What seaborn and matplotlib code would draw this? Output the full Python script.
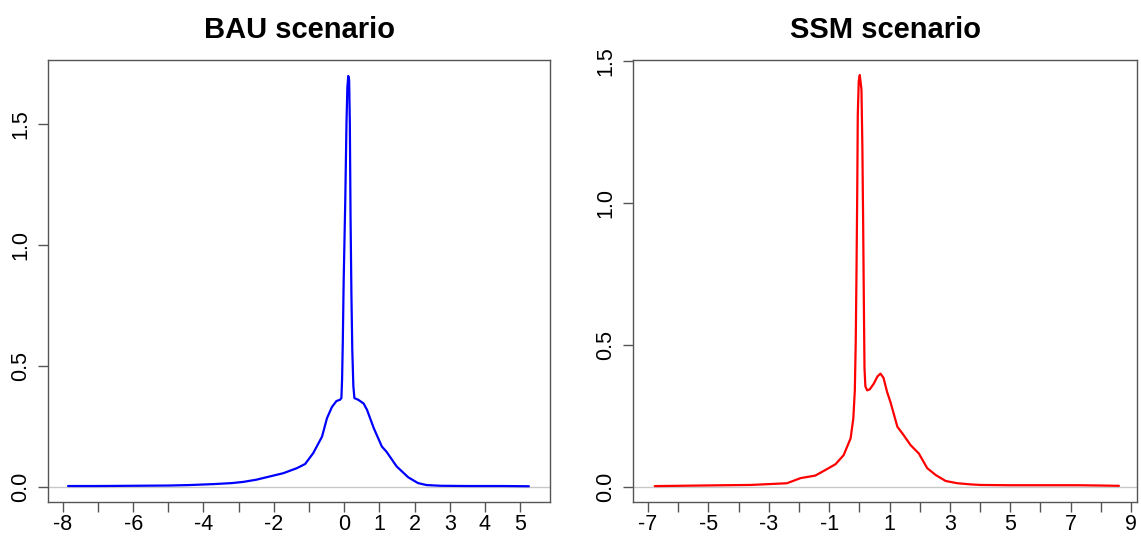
import matplotlib
matplotlib.use("Agg")
import matplotlib.pyplot as plt
import seaborn as sns

# Density estimates of the two scenarios
bau_x = [-7.85, -7.0, -6.0, -5.0, -4.4, -3.7, -3.2, -2.87, -2.5, -2.10, -1.73, -1.34,
         -1.11, -0.88, -0.63, -0.49, -0.35, -0.22, -0.12, -0.08, -0.06, -0.04, -0.015,
         0.03, 0.065, 0.09, 0.115, 0.14, 0.16, 0.18, 0.205, 0.23, 0.26, 0.29, 0.40,
         0.55, 0.65, 0.84, 1.07, 1.20, 1.49, 1.82, 2.10, 2.34, 2.74, 3.5, 4.5, 5.25]
bau_y = [0.004, 0.004, 0.005, 0.006, 0.008, 0.012, 0.016, 0.021, 0.03, 0.044, 0.057, 0.078,
         0.095, 0.14, 0.208, 0.284, 0.33, 0.355, 0.36, 0.367, 0.445, 0.599, 0.852,
         1.181, 1.504, 1.65, 1.697, 1.68, 1.504, 1.118, 0.795, 0.564, 0.417, 0.367, 0.36,
         0.345, 0.318, 0.243, 0.167, 0.146, 0.085, 0.04, 0.016, 0.008, 0.005, 0.004, 0.004, 0.003]

ssm_x = [-6.78, -6.0, -5.27, -4.5, -3.61, -3.0, -2.40, -1.95, -1.46, -1.12, -0.79, -0.52,
         -0.29, -0.20, -0.15, -0.12, -0.095, -0.07, -0.052, -0.02, 0.014, 0.07, 0.10,
         0.127, 0.147, 0.17, 0.20, 0.26, 0.35, 0.48, 0.60, 0.70, 0.80, 0.92, 1.03, 1.26,
         1.47, 1.70, 1.97, 2.25, 2.53, 2.86, 3.25, 3.69, 4.02, 5.0, 6.0, 7.3, 8.0, 8.6]
ssm_y = [0.004, 0.005, 0.006, 0.007, 0.008, 0.011, 0.014, 0.032, 0.041, 0.061, 0.081, 0.113,
         0.172, 0.242, 0.34, 0.51, 0.75, 1.04, 1.31, 1.43, 1.451, 1.40, 1.20,
         0.92, 0.68, 0.42, 0.355, 0.341, 0.345, 0.365, 0.39, 0.40, 0.385, 0.335, 0.30, 0.213,
         0.183, 0.148, 0.119, 0.067, 0.043, 0.022, 0.014, 0.01, 0.008, 0.007, 0.007, 0.007, 0.006, 0.005]

titles = ["BAU scenario", "SSM scenario"]
colors = ["#0000FF", "#FF0000"]

bau_xticks = list(range(-8, 6))
bau_xlabels = ["" if (t < 0 and t % 2 != 0) else str(t) for t in bau_xticks]
ssm_xticks = list(range(-7, 10))
ssm_xlabels = [str(t) if t % 2 != 0 else "" for t in ssm_xticks]
yticks = [0.0, 0.5, 1.0, 1.5]
ylabels = ["0.0", "0.5", "1.0", "1.5"]

sns.set_theme(style="white")
plt.rcParams["font.family"] = ["Liberation Sans", "DejaVu Sans"]

W, H = 1141, 540
fig = plt.figure(figsize=(W / 100, H / 100), dpi=100)
ax1 = fig.add_axes([48 / W, 38 / H, 502 / W, 442 / H])
ax2 = fig.add_axes([633 / W, 38 / H, 504 / W, 442 / H])

panels = [
    (ax1, bau_x, bau_y, bau_xticks, bau_xlabels, (-8.42, 5.85), (-0.062, 1.763)),
    (ax2, ssm_x, ssm_y, ssm_xticks, ssm_xlabels, (-7.5, 9.2), (-0.052, 1.504)),
]

frame_col = "#555555"
for i, (ax, xs, ys, xt, xl, xlim, ylim) in enumerate(panels):
    ax.axhline(0, color="#c8c8c8", linewidth=1.0, zorder=1)
    sns.lineplot(x=xs, y=ys, ax=ax, color=colors[i], linewidth=1.6, zorder=3)
    ax.set_xlim(*xlim)
    ax.set_ylim(*ylim)
    ax.set_xticks(xt)
    ax.set_xticklabels(xl)
    ax.set_yticks(yticks)
    ax.set_yticklabels(ylabels, rotation=90, va="center")
    ax.tick_params(axis="both", direction="out", length=7, width=1.0,
                   color=frame_col, labelsize=15.5, labelcolor="black",
                   bottom=True, left=True)
    ax.tick_params(axis="x", pad=2)
    ax.tick_params(axis="y", pad=5)
    for s in ax.spines.values():
        s.set_visible(True)
        s.set_color(frame_col)
        s.set_linewidth(1.0)
    ax.set_title(titles[i], fontsize=21, fontweight="bold", color="black", pad=16)
    ax.set_xlabel("")
    ax.set_ylabel("")
    ax.grid(False)

fig.savefig("out.png", dpi=100)
